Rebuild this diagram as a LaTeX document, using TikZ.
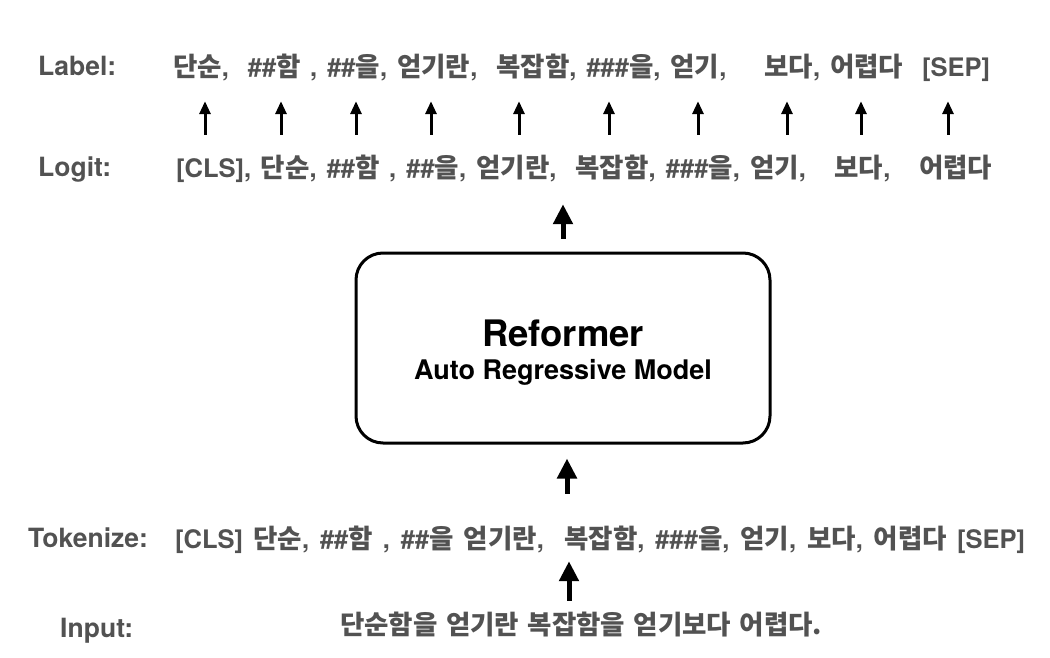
\documentclass[tikz,border=0pt]{standalone}
\usepackage{fontspec}
\setmainfont{TeX Gyre Heros}
\newfontfamily\krfont{Noto Sans CJK KR}
\newcommand\kr[1]{{\krfont\fontsize{26.5}{30}\selectfont #1}}
\usetikzlibrary{arrows.meta, positioning}
\definecolor{txtgray}{RGB}{82,82,82}

\tikzset{
  rowname/.style={anchor=base west, inner sep=0pt, text=txtgray, font=\fontsize{26.5}{30}\selectfont\bfseries},
  tokrow/.style={anchor=base west, inner sep=0pt, text height=20pt, text depth=4pt, text=txtgray,
    font=\fontsize{25.5}{30}\selectfont\bfseries},
  smallarr/.style={-{Triangle[length=13pt,width=11pt]}, line width=3pt},
  bigarr/.style={-{Triangle[length=20pt,width=19pt]}, line width=5pt},
}

\begin{document}
\begin{tikzpicture}[x=1pt, y=-1pt]
			\useasboundingbox (0,0) rectangle (1050,658);
			% row names
			\node[rowname] (labelname) at (38,76) {Label:};
			\node[rowname] (logitname) at (38,177) {Logit:};
			\node[rowname] (tokname) at (28,547) {Tokenize:};
			\node[rowname] (inputname) at (60,637) {Input:};
			% token rows
			\node[tokrow] (label) at (173,77) {\makebox[817pt][s]{\kr{단순},~~\#\#\kr{함} , \#\#\kr{을}, \kr{얻기란},~~\kr{복잡함}, \#\#\#\kr{을}, \kr{얻기},~~~~\kr{보다}, \kr{어렵다}~~[SEP]}};
			\node[tokrow] (logit) at (176,178) {\makebox[816pt][s]{[CLS], \kr{단순}, \#\#\kr{함} , \#\#\kr{을}, \kr{얻기란},~~\kr{복잡함}, \#\#\#\kr{을}, \kr{얻기},~~~\kr{보다},~~~\kr{어렵다}}};
			\node[tokrow] (tokenize) at (175,548) {\makebox[850pt][s]{[CLS] \kr{단순}, \#\#\kr{함} , \#\#\kr{을} \kr{얻기란},~~\kr{복잡함}, \#\#\#\kr{을}, \kr{얻기}, \kr{보다}, \kr{어렵다} [SEP]}};
			\node[tokrow] (input) at (340,634) {\makebox[482pt][s]{\kr{단순함을 얻기란 복잡함을 얻기보다 어렵다.}}};
			% model
			\node[draw, line width=3pt, rounded corners=27pt, minimum width=414pt, minimum height=190pt] (model) at (563,348) {};
			\node[font=\fontsize{36.5}{40}\selectfont\bfseries] (modelname) at (563,333) {Reformer};
			\node[font=\fontsize{27}{30}\selectfont\bfseries] (modeldesc) at (563,372) {Auto Regressive Model};
			% arrows
			\foreach \x in {205,281,356,431,519,609,698,787,861,948}{
				\draw[smallarr, shorten <=23pt, shorten >=20pt] (\x,0 |- logit.north) -- (\x,0 |- label.south);
			}
			\draw[bigarr, shorten <=13pt, shorten >=22pt] (model.north) -- (model.north |- logit.south);
			\draw[bigarr, shorten <=34pt, shorten >=14pt] ([xshift=4pt]model.south |- tokenize.north) -- ([xshift=4pt]model.south);
			\draw[bigarr, shorten <=13pt, shorten >=9pt] ([xshift=6pt]model.south |- input.north) -- ([xshift=6pt]model.south |- tokenize.south);
		\end{tikzpicture}
\end{document}
